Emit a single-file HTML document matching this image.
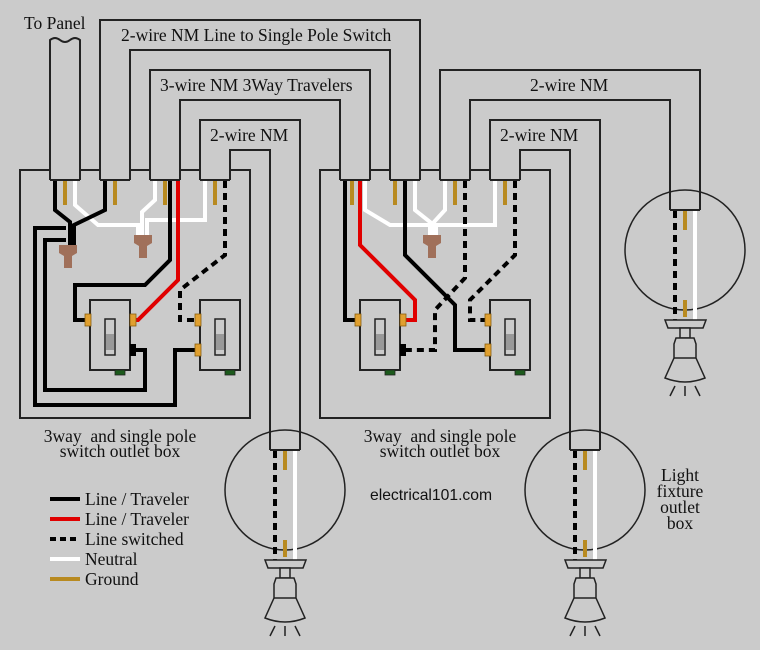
<!DOCTYPE html>
<html><head><meta charset="utf-8"><style>
html,body{margin:0;padding:0;background:#cbcbcb;}
svg{display:block;}
text{font-family:"Liberation Serif",serif;font-size:17.5px;fill:#111;}
</style></head><body>
<svg width="760" height="650" viewBox="0 0 760 650" xmlns="http://www.w3.org/2000/svg">
<defs>
  <g id="sw">
    <rect x="0" y="0" width="40" height="70" fill="#cbcbcb" stroke="#222" stroke-width="2"/>
    <rect x="15" y="19" width="10" height="36" fill="#cbcbcb" stroke="#222" stroke-width="1.5"/>
    <rect x="16" y="34" width="8" height="16" fill="#999"/>
    <rect x="25" y="70" width="10" height="5" fill="#1c5a1c" stroke="#222" stroke-width="0.8"/>
  </g>
  <g id="fix">
    <path d="M-20,0 H21 L18,8 H-17 Z" fill="#cbcbcb" stroke="#222" stroke-width="1.5"/>
    <rect x="-5" y="8" width="10" height="10" fill="#cbcbcb" stroke="#222" stroke-width="1.5"/>
    <path d="M-9,18 H9 L11,24 V38 L20,58 Q0,66 -20,58 L-11,38 V24 Z" fill="#cbcbcb" stroke="#222" stroke-width="1.5"/>
    <path d="M-11,38 H11" stroke="#222" stroke-width="1.5"/>
    <path d="M-10,66 L-15,76 M0,66 V76 M10,66 L15,76" stroke="#222" stroke-width="1.5"/>
  </g>
  <path id="nut" d="M-9,0 H9 V8 L4,11 V23 H-4 V11 L-9,8 Z" fill="#a0705a"/>
</defs>
<rect width="760" height="650" fill="#cbcbcb"/>

<g fill="none" stroke="#222" stroke-width="2">
  <rect x="20" y="170" width="230" height="248"/>
  <rect x="320" y="170" width="230" height="248"/>
  <path d="M50,180 V40 Q55,36 60,40 Q65,44 70,40 Q75,36 80,40 V180"/>
  <path d="M100,180 V20 H420 V180 M130,180 V50 H390 V180"/>
  <path d="M150,180 V70 H370 V180 M180,180 V100 H340 V180"/>
  <path d="M200,180 V120 H300 V450 M230,180 V150 H270 V450"/>
  <path d="M440,180 V70 H700 V210 M470,180 V100 H670 V210"/>
  <path d="M490,180 V120 H600 V450 M520,180 V150 H570 V450"/>
  <path d="M50,180 H80 M100,180 H130 M150,180 H180 M200,180 H230 M340,180 H370 M390,180 H420 M440,180 H470 M490,180 H520 M670,210 H700 M270,450 H300 M570,450 H600"/>
</g>
<g fill="#cbcbcb">
  <rect x="51" y="160" width="28" height="19"/><rect x="101" y="160" width="28" height="19"/>
  <rect x="151" y="160" width="28" height="19"/><rect x="201" y="160" width="28" height="19"/>
  <rect x="341" y="160" width="28" height="19"/><rect x="391" y="160" width="28" height="19"/>
  <rect x="441" y="160" width="28" height="19"/><rect x="491" y="160" width="28" height="19"/>
</g>

<g fill="none" stroke="#222" stroke-width="1.5">
  <circle cx="285" cy="490" r="60"/>
  <circle cx="585" cy="490" r="60"/>
  <circle cx="685" cy="250" r="60"/>
</g>

<!-- LEFT BOX WIRING -->
<g fill="none" stroke-width="4" stroke-linejoin="miter">
  <path d="M75,181 V205 L98,225 H138 V240 M155,181 V200 L142,212 V240 M205,181 V220 H147 V240" stroke="#fff"/>
  <path d="M55,181 V210 L70,222 V245 M105,181 V210 L74,225 V245" stroke="#000"/>
  <path d="M170,181 V260 L145,285 H75 V320 H88" stroke="#000"/>
  <path d="M66,228 H35 V405 H175 V350 H198" stroke="#000"/>
  <path d="M66,240 H45 V390 H145 V350 H133" stroke="#000"/>
  <path d="M178,181 V280 L138,320 H133" stroke="#e00000"/>
  <path d="M225,181 V255 L180,290 V320 H198" stroke="#000" stroke-dasharray="7,5"/>
  <path d="M65,181 V205 M115,181 V205 M165,181 V205 M215,181 V205" stroke="#b88a20"/>
</g>
<use href="#nut" x="68" y="245"/>
<use href="#nut" x="143" y="235"/>

<!-- RIGHT BOX WIRING -->
<g fill="none" stroke-width="4">
  <path d="M365,181 V210 L390,225 H428 M415,181 V210 L430,222 V236 M445,181 V210 L434,222 V236 M495,181 V225 H436 V236" stroke="#fff"/>
  <path d="M345,181 V320 H357" stroke="#000"/>
  <path d="M360,181 V245 L415,300 V320 H403" stroke="#e00000"/>
  <path d="M405,181 V255 L455,305 V350 H487" stroke="#000"/>
  <path d="M465,181 V278 L435,310 V350 H403" stroke="#000" stroke-dasharray="7,5"/>
  <path d="M515,181 V255 L470,300 V320 H487" stroke="#000" stroke-dasharray="7,5"/>
  <path d="M352,181 V205 M395,181 V205 M455,181 V205 M505,181 V205" stroke="#b88a20"/>
</g>
<use href="#nut" x="432" y="235"/>

<use href="#sw" x="90" y="300"/>
<use href="#sw" x="200" y="300"/>
<use href="#sw" x="360" y="300"/>
<use href="#sw" x="490" y="300"/>
<g fill="#e0a030" stroke="#8a6010" stroke-width="0.8">
  <rect x="85" y="314" width="6" height="12"/><rect x="130" y="314" width="6" height="12"/>
  <rect x="195" y="314" width="6" height="12"/><rect x="195" y="344" width="6" height="12"/>
  <rect x="355" y="314" width="6" height="12"/><rect x="400" y="314" width="6" height="12"/>
  <rect x="485" y="314" width="6" height="12"/><rect x="485" y="344" width="6" height="12"/>
</g>
<rect x="130" y="344" width="6" height="12" fill="#000"/>
<rect x="400" y="344" width="6" height="12" fill="#000"/>

<g fill="none" stroke-width="4">
  <path d="M275,451 V560 M575,451 V560 M675,211 V320" stroke="#000" stroke-dasharray="7,5"/>
  <path d="M295,451 V560 M595,451 V560 M695,211 V320" stroke="#fff"/>
  <path d="M285,451 V470 M285,540 V557 M585,451 V470 M585,540 V557 M685,211 V230 M685,300 V317" stroke="#b88a20"/>
</g>
<use href="#fix" x="285" y="560"/>
<use href="#fix" x="585" y="560"/>
<use href="#fix" x="685" y="320"/>

<text x="24" y="29">To Panel</text>
<text x="121" y="41">2-wire NM Line to Single Pole Switch</text>
<text x="160" y="91">3-wire NM 3Way Travelers</text>
<text x="210" y="141">2-wire NM</text>
<text x="530" y="91">2-wire NM</text>
<text x="500" y="141">2-wire NM</text>
<text x="120" y="442" text-anchor="middle" xml:space="preserve">3way  and single pole</text>
<text x="120" y="457" text-anchor="middle">switch outlet box</text>
<text x="440" y="442" text-anchor="middle" xml:space="preserve">3way  and single pole</text>
<text x="440" y="457" text-anchor="middle">switch outlet box</text>
<text x="680" y="481" text-anchor="middle">Light</text>
<text x="680" y="497" text-anchor="middle">fixture</text>
<text x="680" y="513" text-anchor="middle">outlet</text>
<text x="680" y="529" text-anchor="middle">box</text>
<text x="370" y="500" style="font-family:'Liberation Sans',sans-serif;font-size:15.7px">electrical101.com</text>

<g stroke-width="4" fill="none">
  <path d="M50,499 H80" stroke="#000"/>
  <path d="M50,519 H80" stroke="#e00000"/>
  <path d="M50,539 H80" stroke="#000" stroke-dasharray="6,4"/>
  <path d="M50,559 H80" stroke="#fff"/>
  <path d="M50,579 H80" stroke="#b88a20"/>
</g>
<text x="85" y="505">Line / Traveler</text>
<text x="85" y="525">Line / Traveler</text>
<text x="85" y="545">Line switched</text>
<text x="85" y="565">Neutral</text>
<text x="85" y="585">Ground</text>
</svg>
</body></html>
